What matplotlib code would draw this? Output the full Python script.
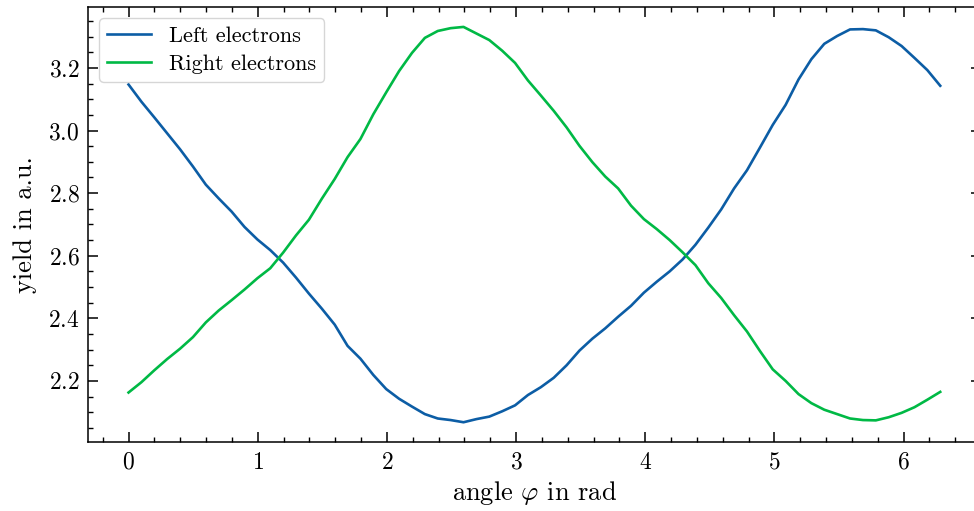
import matplotlib
matplotlib.use("Agg")
import matplotlib.pyplot as plt
import numpy as np
from matplotlib.ticker import MultipleLocator

# Ausbeute der Elektronen in Abhaengigkeit vom Winkel
phi = np.linspace(0, 2 * np.pi, 64)

left_electrons = [
    3.147, 3.092, 3.042, 2.991, 2.940, 2.885, 2.827, 2.783, 2.741, 2.692,
    2.652, 2.618, 2.578, 2.530, 2.479, 2.431, 2.380, 2.312, 2.271, 2.219,
    2.174, 2.143, 2.118, 2.094, 2.080, 2.075, 2.068, 2.078, 2.086, 2.103,
    2.122, 2.155, 2.180, 2.210, 2.250, 2.297, 2.335, 2.368, 2.405, 2.440,
    2.482, 2.517, 2.550, 2.588, 2.635, 2.690, 2.748, 2.815, 2.873, 2.945,
    3.018, 3.082, 3.163, 3.228, 3.277, 3.302, 3.323, 3.324, 3.320, 3.298,
    3.270, 3.232, 3.193, 3.143,
]

right_electrons = [
    2.163, 2.196, 2.234, 2.270, 2.303, 2.340, 2.387, 2.425, 2.458, 2.492,
    2.528, 2.560, 2.610, 2.665, 2.715, 2.782, 2.845, 2.915, 2.973, 3.052,
    3.122, 3.190, 3.248, 3.296, 3.318, 3.327, 3.331, 3.310, 3.289, 3.255,
    3.216, 3.160, 3.112, 3.063, 3.010, 2.951, 2.899, 2.853, 2.815, 2.760,
    2.717, 2.685, 2.650, 2.611, 2.570, 2.512, 2.465, 2.410, 2.358, 2.296,
    2.237, 2.200, 2.158, 2.129, 2.108, 2.094, 2.080, 2.075, 2.074, 2.084,
    2.098, 2.116, 2.140, 2.165,
]

plt.rcParams.update({
    "font.family": "serif",
    "font.serif": ["cmr10"],
    "mathtext.fontset": "cm",
    "axes.formatter.use_mathtext": True,
    "font.size": 16,
    "axes.linewidth": 1.1,
    "xtick.direction": "in",
    "ytick.direction": "in",
    "xtick.top": True,
    "ytick.right": True,
    "xtick.major.size": 7,
    "ytick.major.size": 7,
    "xtick.minor.size": 3.5,
    "ytick.minor.size": 3.5,
    "xtick.major.width": 1.1,
    "ytick.major.width": 1.1,
    "xtick.minor.width": 1.0,
    "ytick.minor.width": 1.0,
    "xtick.major.pad": 7,
    "ytick.major.pad": 6,
    "xtick.minor.visible": True,
    "ytick.minor.visible": True,
})

fig = plt.figure(figsize=(9.74, 5.11), dpi=100)
ax = fig.add_axes([0.0903, 0.135, 0.9167, 0.851])

ax.plot(phi, left_electrons, color="#0C5DA5", lw=1.9, label="Left electrons")
ax.plot(phi, right_electrons, color="#00B945", lw=1.9, label="Right electrons")

ax.xaxis.set_minor_locator(MultipleLocator(0.2))
ax.yaxis.set_major_locator(MultipleLocator(0.2))
ax.yaxis.set_minor_locator(MultipleLocator(0.05))
ax.tick_params(labelsize=17)

ax.set_xlabel(r"angle $\varphi$ in rad", fontsize=19, labelpad=4)
ax.set_ylabel("yield in a.u.", fontsize=19, labelpad=8)
ax.legend(loc="upper left", fontsize=16, fancybox=True, framealpha=0.8,
          handlelength=2.0, borderpad=0.35, labelspacing=0.4)

fig.savefig("out.png", dpi=100)
